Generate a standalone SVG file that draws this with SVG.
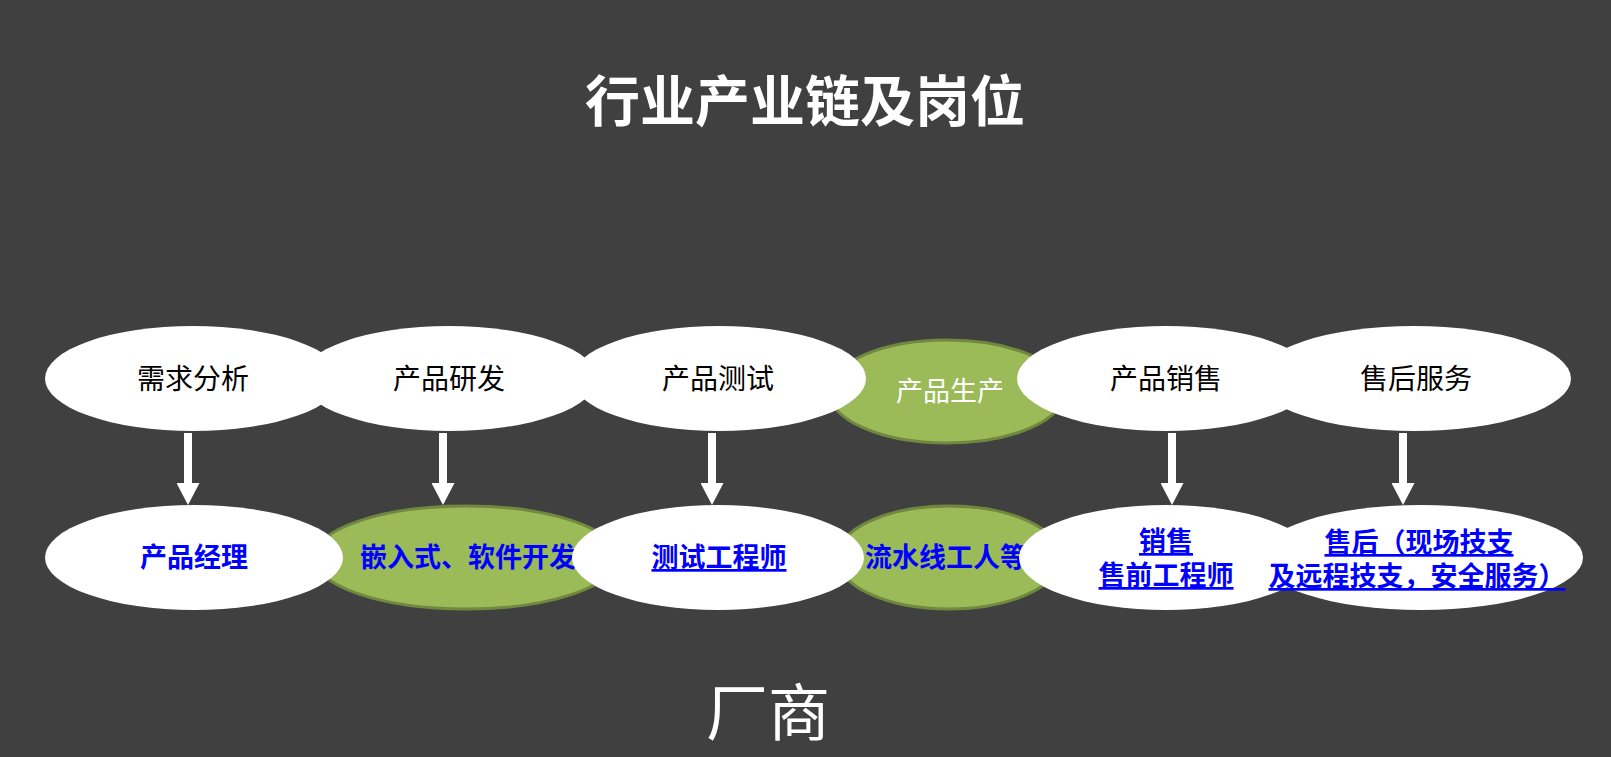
<svg xmlns="http://www.w3.org/2000/svg" width="1611" height="757" viewBox="0 0 1611 757">
<defs>
<style>
.bg{fill:#404040}
.w{fill:#ffffff}
.g{fill:#9bbb59;stroke:#71893f;stroke-width:3}
.t{font-family:"Noto Sans CJK SC","Microsoft YaHei",sans-serif;font-size:28px;fill:#000000;text-anchor:middle}
.tw{font-family:"Noto Sans CJK SC","Microsoft YaHei",sans-serif;font-size:27px;fill:#ffffff;text-anchor:middle}
.b{font-family:"Noto Sans CJK SC","Microsoft YaHei",sans-serif;font-size:27px;font-weight:bold;fill:#0000ff;text-anchor:middle}
.u{text-decoration:underline}
.arrow{stroke:#ffffff;stroke-width:8;fill:none}
</style>
<marker id="ah" markerUnits="userSpaceOnUse" markerWidth="22" markerHeight="23" viewBox="0 0 22 23" refX="0" refY="11.5" orient="auto">
<path d="M0,0 L22,11.5 L0,23 Z" fill="#ffffff"/>
</marker>
</defs>
<rect class="bg" x="0" y="0" width="1611" height="757"/>
<text x="805" y="121" font-family="Noto Sans CJK SC, Microsoft YaHei, sans-serif" font-size="55" font-weight="bold" fill="#ffffff" text-anchor="middle">行业产业链及岗位</text>

<g id="n-production">
<ellipse class="g" cx="947" cy="391.5" rx="118" ry="51.5"/>
<text class="tw" x="950" y="401">产品生产</text>
</g>
<g id="n-demand">
<ellipse class="w" cx="193" cy="378.5" rx="148" ry="52.5"/>
<text class="t" x="193" y="389">需求分析</text>
</g>
<g id="n-rnd">
<ellipse class="w" cx="449" cy="378.5" rx="148" ry="52.5"/>
<text class="t" x="449" y="389">产品研发</text>
</g>
<g id="n-test">
<ellipse class="w" cx="719" cy="378.5" rx="147" ry="52.5"/>
<text class="t" x="718" y="389">产品测试</text>
</g>
<g id="n-sales">
<ellipse class="w" cx="1166" cy="378.5" rx="149" ry="52.5"/>
<text class="t" x="1166" y="389">产品销售</text>
</g>
<g id="n-service">
<ellipse class="w" cx="1414" cy="378.5" rx="157" ry="52.5"/>
<text class="t" x="1416" y="389">售后服务</text>
</g>

<g id="r-embedded">
<ellipse class="g" cx="466" cy="557.5" rx="152" ry="51.5"/>
<text class="b" x="468" y="567">嵌入式、软件开发</text>
</g>
<g id="r-worker">
<ellipse class="g" cx="949" cy="557.5" rx="112" ry="51.5"/>
<text class="b" x="946" y="567">流水线工人等</text>
</g>
<g id="r-pm">
<ellipse class="w" cx="194" cy="557.5" rx="149" ry="52.5"/>
<text class="b" x="194" y="567">产品经理</text>
</g>
<g id="r-tester">
<ellipse class="w" cx="718" cy="557.5" rx="146" ry="52.5"/>
<text class="b u" x="719" y="567">测试工程师</text>
</g>
<g id="r-sales">
<ellipse class="w" cx="1166" cy="557.5" rx="147" ry="52.5"/>
<text class="b u" x="1166" y="551"><tspan x="1166" y="551">销售</tspan><tspan x="1166" y="585">售前工程师</tspan></text>
</g>
<g id="r-service">
<ellipse class="w" cx="1421" cy="557.5" rx="162" ry="52.5"/>
<text class="b u" x="1419" y="552"><tspan x="1419" y="552">售后（现场技支</tspan><tspan x="1417" y="586">及远程技支，安全服务）</tspan></text>
</g>

<g id="connectors">
<line class="arrow" x1="188" y1="433" x2="188" y2="483" marker-end="url(#ah)"/>
<line class="arrow" x1="443" y1="433" x2="443" y2="483" marker-end="url(#ah)"/>
<line class="arrow" x1="712" y1="433" x2="712" y2="483" marker-end="url(#ah)"/>
<line class="arrow" x1="1172" y1="433" x2="1172" y2="483" marker-end="url(#ah)"/>
<line class="arrow" x1="1403" y1="433" x2="1403" y2="483" marker-end="url(#ah)"/>
</g>

<text x="768" y="736" font-family="Noto Sans CJK SC, Microsoft YaHei, sans-serif" font-size="62" fill="#ffffff" text-anchor="middle">厂商</text>
</svg>
